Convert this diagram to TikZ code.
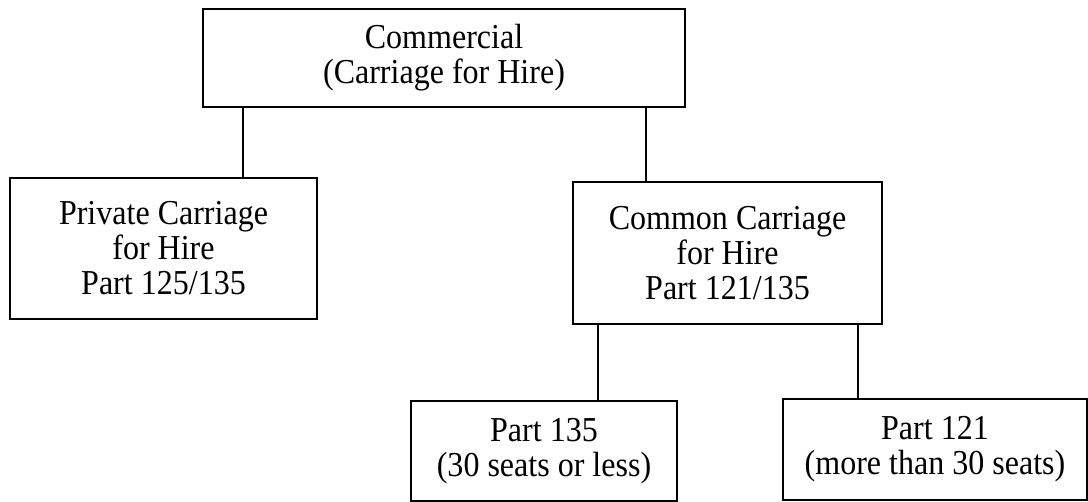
\documentclass[tikz,border=0pt]{standalone}
\usepackage{fontspec}
\setmainfont[FakeStretch=0.915]{Liberation Serif}
\usepackage{tikz}

\begin{document}
\begin{tikzpicture}[x = 0.5pt, y = -0.5pt, line width = 0.8pt,
                    box/.style = {rectangle, draw, align = center, inner sep = 0pt,
                                  font = \fontsize{17.5}{17.5}\selectfont}]
  \useasboundingbox (0, 0) rectangle (1088, 502);
  \node [box, minimum width = 241pt, minimum height = 49pt] (comm) at (444, 58) {Commercial\\(Carriage for Hire)};
  \node [box, minimum width = 153.5pt, minimum height = 70.5pt] (priv) at (163.5, 248.5) {Private Carriage\\for Hire\\Part 125/135};
  \node [box, minimum width = 154.5pt, minimum height = 71pt] (common) at (727.5, 253) {Common Carriage\\for Hire\\Part 121/135};
  \node [box, minimum width = 133pt, minimum height = 50pt] (p135) at (544, 451) {Part 135\\(30 seats or less)};
  \node [box, minimum width = 152pt, minimum height = 50.5pt] (p121) at (935, 449.5) {Part 121\\(more than 30 seats)};
  \coordinate (c1) at (243, 0);
  \coordinate (c2) at (646, 0);
  \coordinate (c3) at (598, 0);
  \coordinate (c4) at (858, 0);
  \draw (comm.south -| c1) -- (priv.north -| c1);
  \draw (comm.south -| c2) -- (common.north -| c2);
  \draw (common.south -| c3) -- (p135.north -| c3);
  \draw (common.south -| c4) -- (p121.north -| c4);
\end{tikzpicture}
\end{document}
